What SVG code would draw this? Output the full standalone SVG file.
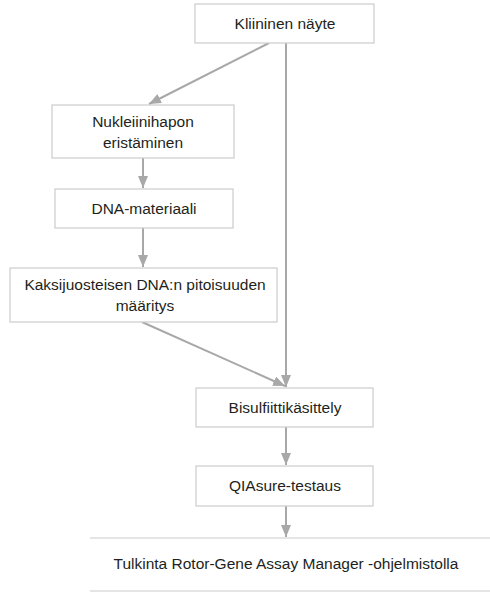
<svg xmlns="http://www.w3.org/2000/svg" width="490" height="592" viewBox="0 0 490 592">
<style>
.box{fill:#ffffff;stroke:#cccccc;stroke-width:1.2}
.lbl{font-family:"Liberation Sans",Arial,sans-serif;font-size:15.5px;fill:#231f20;text-anchor:middle}
.con{stroke:#a8a8a8;stroke-width:2;fill:none}
</style>
<defs>
<marker id="ah" viewBox="0 0 12 10" refX="12" refY="5" markerWidth="6" markerHeight="5" markerUnits="strokeWidth" orient="auto">
<path d="M0,0 L12,5 L0,10 Z" fill="#a8a8a8"/>
</marker>
</defs>
<rect width="490" height="592" fill="#ffffff"/>
<g id="connectors">
<line class="con" x1="269" y1="43" x2="149" y2="104" marker-end="url(#ah)"/>
<line class="con" x1="286" y1="43" x2="286" y2="387" marker-end="url(#ah)"/>
<line class="con" x1="143" y1="158" x2="143" y2="188" marker-end="url(#ah)"/>
<line class="con" x1="143" y1="228" x2="143" y2="267" marker-end="url(#ah)"/>
<line class="con" x1="142" y1="322" x2="285" y2="386" marker-end="url(#ah)"/>
<line class="con" x1="286" y1="427" x2="286" y2="465" marker-end="url(#ah)"/>
<line class="con" x1="286" y1="506" x2="286" y2="537" marker-end="url(#ah)"/>
</g>
<g id="n1"><rect class="box" x="195" y="4" width="179" height="39"/><text class="lbl" x="285" y="29">Kliininen näyte</text></g>
<g id="n2"><rect class="box" x="52" y="105" width="182" height="53"/><text class="lbl" x="143" y="127">Nukleiinihapon</text><text class="lbl" x="143" y="148">eristäminen</text></g>
<g id="n3"><rect class="box" x="55" y="189" width="178" height="39"/><text class="lbl" x="144" y="214">DNA-materiaali</text></g>
<g id="n4"><rect class="box" x="10" y="268" width="267" height="54"/><text class="lbl" x="145" y="290">Kaksijuosteisen DNA:n pitoisuuden</text><text class="lbl" x="145" y="311">määritys</text></g>
<g id="n5"><rect class="box" x="196" y="388" width="177" height="39"/><text class="lbl" x="285" y="413">Bisulfiittikäsittely</text></g>
<g id="n6"><rect class="box" x="196" y="466" width="177" height="40"/><text class="lbl" x="285" y="491">QIAsure-testaus</text></g>
<g id="n7"><path class="box" d="M90,538 H490 M90,591 H490" fill="none"/><text class="lbl" x="286" y="569">Tulkinta Rotor-Gene Assay Manager -ohjelmistolla</text></g>
</svg>
